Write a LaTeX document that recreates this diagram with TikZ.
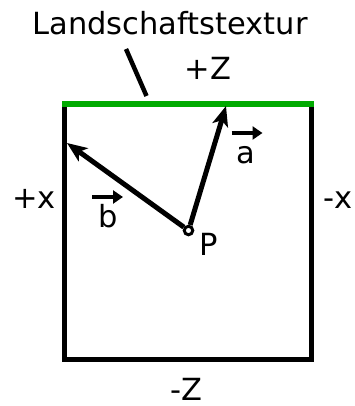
\documentclass[tikz,border=0pt]{standalone}
\usepackage{fontspec}
\setmainfont{DejaVu Sans}
\usetikzlibrary{arrows.meta}
\definecolor{texgreen}{RGB}{0,170,0}
\begin{document}
\begin{tikzpicture}[x=1pt,y=-1pt,
    lbl/.style={anchor=base,inner sep=0pt,font=\fontsize{30.5}{36}\selectfont},
    vecline/.style={line width=5pt,-{Stealth[length=20pt,width=16pt,inset=5pt]}},
    smallvec/.style={line width=4.5pt,-{Triangle[length=10pt,width=13pt]}},
    pnt/.style={circle,draw,fill=white,line width=3pt,minimum size=8.5pt,inner sep=0pt}]
    \useasboundingbox (0,0) rectangle (355,406);
    % box
    \draw [line width=5.5pt] (64.5,104) rectangle (311.5,359.5);
    \draw [line width=5.5pt,texgreen] (62,104) -- (314,104);
    % lecter
    \node [lbl] (title) at (170,35) {Landschaftstextur};
    \node [lbl] (pz) at (208,80) {+Z};
    \node [lbl] (mz) at (186,400) {-Z};
    \node [lbl] (px) at (34,208) {+x};
    \node [lbl] (mx) at (338,208) {-x};
    \node [lbl] (a) at (245.5,164) {a};
    \node [lbl] (b) at (108,227) {b};
    \node [lbl] (plbl) at (209,255) {P};
    % pointer
    \coordinate (tx) at (126,49);\coordinate (tg) at (146.5,96);
    \draw [line width=4.5pt] (tx) -- (tg);
    % point
    \node [pnt] (P) at (188.5,230.5) {};
    \coordinate (ta) at (226,106);\coordinate (tb) at (67,143);
    % vectors
    \draw [vecline] (P) -- (ta);
    \draw [vecline] (P) -- (tb);
    \draw [smallvec] ([shift={(-14,-31)}]a.base) -- ([shift={(17,-31)}]a.base);
    \draw [smallvec] ([shift={(-16,-30)}]b.base) -- ([shift={(15,-30)}]b.base);
\end{tikzpicture}
\end{document}
